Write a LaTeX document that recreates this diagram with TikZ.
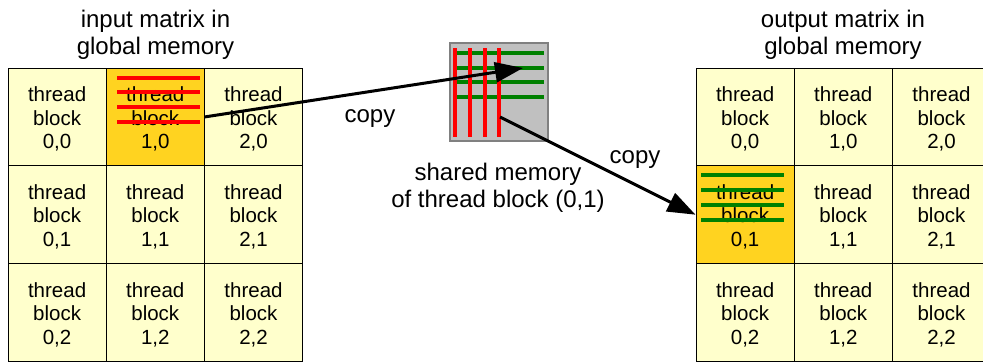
\documentclass[tikz,border=0pt]{standalone}
\usepackage{fontspec}
\setmainfont{Liberation Sans}
\usetikzlibrary{arrows.meta}
\definecolor{cellfill}{HTML}{FFFFCC}
\definecolor{hotfill}{HTML}{FFD320}
\definecolor{smemfill}{HTML}{C0C0C0}
\definecolor{smemline}{HTML}{808080}
\definecolor{rowgreen}{HTML}{008000}
\definecolor{colred}{HTML}{FF0000}

\begin{document}
\begin{tikzpicture}[x=1pt,y=-1pt,
  cell/.style={draw=black, line width=1pt, minimum width=98.2pt, minimum height=97.8pt,
    inner sep=0pt, align=center, font=\fontsize{20.5}{23.5}\selectfont},
  titletext/.style={align=center, font=\fontsize{24}{27}\selectfont, inner sep=0pt},
  copylabel/.style={font=\fontsize{24}{27}\selectfont, inner sep=0pt, anchor=base},
  redbar/.style={colred, line width=4.5pt},
  greenbar/.style={rowgreen, line width=4pt},
  copyarrow/.style={line width=3pt, -{Triangle[length=28pt,width=20pt]}}
]
\useasboundingbox (0,0) rectangle (983,362);

% input matrix: 3x3 thread blocks, block (1,0) highlighted
\foreach \i/\j/\f in {0/0/cellfill,1/0/hotfill,2/0/cellfill,
                      0/1/cellfill,1/1/cellfill,2/1/cellfill,
                      0/2/cellfill,1/2/cellfill,2/2/cellfill}
  \node[cell, fill=\f] (L-\i-\j) at ({8+98.2*(\i+0.5)}, {68+97.8*(\j+0.5)})
    {\rule{0pt}{19pt}thread\\block\\\i,\j};

% output matrix: 3x3 thread blocks, block (0,1) highlighted
\foreach \i/\j/\f in {0/0/cellfill,1/0/cellfill,2/0/cellfill,
                      0/1/hotfill,1/1/cellfill,2/1/cellfill,
                      0/2/cellfill,1/2/cellfill,2/2/cellfill}
  \node[cell, fill=\f] (R-\i-\j) at ({696+98.2*(\i+0.5)}, {68+97.8*(\j+0.5)})
    {\rule{0pt}{19pt}thread\\block\\\i,\j};

% titles
\node[titletext] (in-title) at (155.5,35) {input matrix in\\global memory};
\node[titletext] (out-title) at (843,35) {output matrix in\\global memory};

% rows read from the input block
\foreach \y in {78,92,107,122}
  \draw[redbar] (117,\y) -- (200,\y);

% columns written to the output block
\foreach \y in {175,190,205,220}
  \draw[greenbar] (701,\y) -- (784,\y);

% shared memory tile
\node[draw=smemline, fill=smemfill, line width=1.5pt, minimum size=98pt, inner sep=0pt] (smem) at (499,92) {};
\foreach \y in {53,68,82,97}
  \draw[greenbar] (455,\y) -- (544,\y);
\foreach \x in {455,470,485,499}
  \draw[redbar] (\x,48) -- (\x,137);
\node[titletext] (smem-label) at (498,188) {shared memory\\of thread block (0,1)};

% copy arrows
\coordinate (smem-in) at (523,68);
\coordinate (smem-out) at (500,117);
\draw[copyarrow] (L-1-0.east) -- (smem-in);
\draw[copyarrow] (smem-out) -- (R-0-1.west);
\node[copylabel] (copy-in) at (370,122) {copy};
\node[copylabel] (copy-out) at (635,163) {copy};
\end{tikzpicture}
\end{document}
